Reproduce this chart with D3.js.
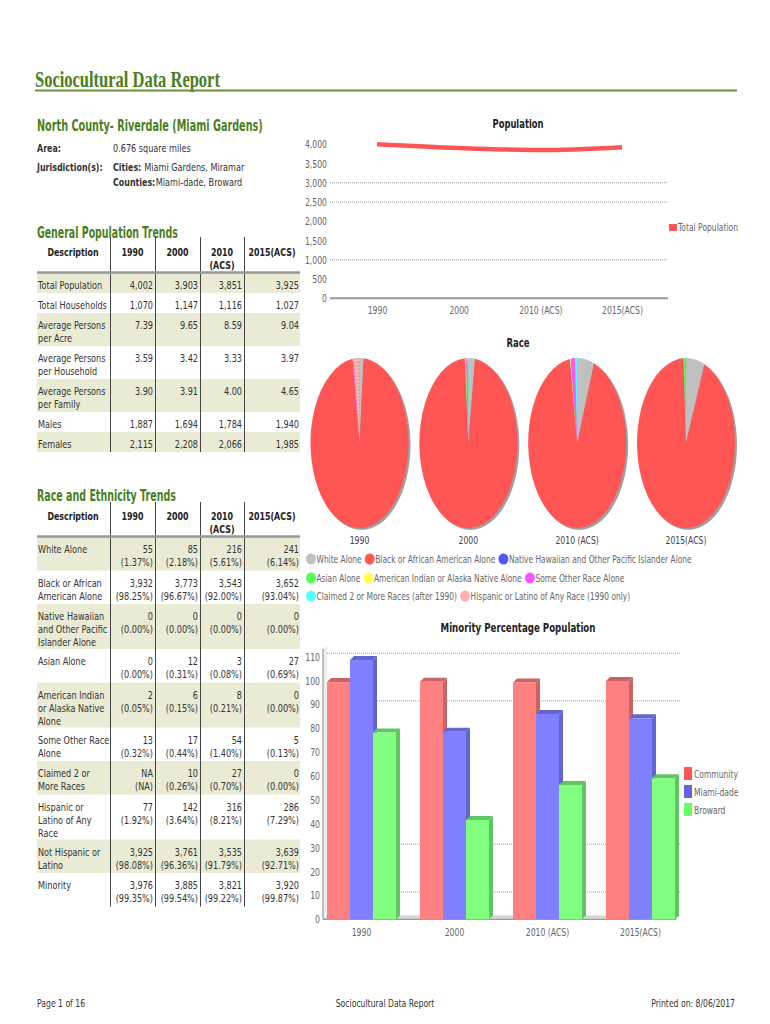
<!DOCTYPE html>
<html><head><meta charset="utf-8">
<script src="https://cdn.jsdelivr.net/npm/d3@7"></script>
<style>html,body{margin:0;padding:0;background:#fff;} svg{display:block;}</style>
</head><body><svg id="page" width="770" height="1024"></svg>
<script>
// ---------------- DATA ----------------
const years = ["1990", "2000", "2010 (ACS)", "2015(ACS)"];
const tableHeads = ["Description", "1990", "2000", "2010\n(ACS)", "2015(ACS)"];

// General population trends
const genLabels = ["Total Population", "Total Households", "Average Persons\nper Acre",
  "Average Persons\nper Household", "Average Persons\nper Family", "Males", "Females"];
const genFormats = [",", ",", ".2f", ".2f", ".2f", ",", ","];
const gen1990 = [4002, 1070, 7.39, 3.59, 3.90, 1887, 2115];
const gen2000 = [3903, 1147, 9.65, 3.42, 3.91, 1694, 2208];
const gen2010 = [3851, 1116, 8.59, 3.33, 4.00, 1784, 2066];
const gen2015 = [3925, 1027, 9.04, 3.97, 4.65, 1940, 1985];

// Race and ethnicity trends
const raceLabels = ["White Alone", "Black or African\nAmerican Alone", "Native Hawaiian\nand Other Pacific\nIslander Alone",
  "Asian Alone", "American Indian\nor Alaska Native\nAlone", "Some Other Race\nAlone", "Claimed 2 or\nMore Races",
  "Hispanic or\nLatino of Any\nRace", "Not Hispanic or\nLatino", "Minority"];
const race1990Count = [55, 3932, 0, 0, 2, 13, null, 77, 3925, 3976];
const race1990Pct = [1.37, 98.25, 0.00, 0.00, 0.05, 0.32, null, 1.92, 98.08, 99.35];
const race2000Count = [85, 3773, 0, 12, 6, 17, 10, 142, 3761, 3885];
const race2000Pct = [2.18, 96.67, 0.00, 0.31, 0.15, 0.44, 0.26, 3.64, 96.36, 99.54];
const race2010Count = [216, 3543, 0, 3, 8, 54, 27, 316, 3535, 3821];
const race2010Pct = [5.61, 92.00, 0.00, 0.08, 0.21, 1.40, 0.70, 8.21, 91.79, 99.22];
const race2015Count = [241, 3652, 0, 27, 0, 5, 0, 286, 3639, 3920];
const race2015Pct = [6.14, 93.04, 0.00, 0.69, 0.00, 0.13, 0.00, 7.29, 92.71, 99.87];

// Population line chart
const totalPopulation = [4002, 3903, 3851, 3925];
const popTicks = [0, 500, 1000, 1500, 2000, 2500, 3000, 3500, 4000];
const popGrid = [1000, 2500, 3000];

// Race pies
const pieCategories = ["White Alone", "Black or African American Alone", "Native Hawaiian and Other Pacific Islander Alone",
  "Asian Alone", "American Indian or Alaska Native Alone", "Some Other Race Alone",
  "Claimed 2 or More Races (after 1990)", "Hispanic or Latino of Any Race (1990 only)"];
const pieColors = ["#c0c0c0", "#ff5555", "#5555ff", "#55ff55", "#ffff55", "#ff55ff", "#55ffff", "url(#hatch)"];
const pieLegendColors = ["#c0c0c0", "#ff5555", "#5555ff", "#55ff55", "#ffff55", "#ff55ff", "#55ffff", "#ffb0b0"];
const pie1990 = [55, 3932, 0, 0, 2, 13, 0, 77];
const pie2000 = [85, 3773, 0, 12, 6, 17, 10, 0];
const pie2010 = [216, 3543, 0, 3, 8, 54, 27, 0];
const pie2015 = [241, 3652, 0, 27, 0, 5, 0, 0];
const pieLegendRows = [[0, 1, 2], [3, 4, 5], [6, 7]];

// Minority bar chart
const barSeries = ["Community", "Miami-dade", "Broward"];
const barFace = ["#ff8080", "#8080ff", "#80ff80"];
const barDark = ["#c86464", "#6464d0", "#60c460"];
const barLegend = ["#ff5555", "#6464e0", "#66ff66"];
const minorityCommunity = [99.35, 99.54, 99.22, 99.87];
const minorityMiamiDade = [108.6, 78.6, 86.0, 84.2];
const minorityBroward = [78.2, 41.6, 56.3, 59.1];
const barTicks = [0, 10, 20, 30, 40, 50, 60, 70, 80, 90, 100, 110];
const barGrid = [10, 30, 90, 110];

// ---------------- HELPERS ----------------
const svg = d3.select("#page");
svg.append("rect").attr("width", 770).attr("height", 1024).attr("fill", "#fff");
const F = "DejaVu Sans";
const GREEN = "#4b7d20";
const SHADE = "#e9ebd4";

const defs = svg.append("defs");
const pat = defs.append("pattern").attr("id", "hatch").attr("width", 2).attr("height", 2)
  .attr("patternUnits", "userSpaceOnUse");
pat.append("rect").attr("width", 2).attr("height", 2).attr("fill", "#f2a0a0");
pat.append("rect").attr("width", 1).attr("height", 1).attr("fill", "#ffd6d6");

// horizontally condense texts with a transform so bounding boxes stay true
function squeeze(sel, k) {
  sel.each(function () {
    const el = d3.select(this);
    const x = +(el.attr("x") || 0), y = +(el.attr("y") || 0);
    el.attr("x", null).attr("y", null)
      .attr("transform", `translate(${x},${y}) scale(${k},1)`);
  });
}
function T(g, x, y, s, o = {}) {
  const t = g.append("text")
    .attr("font-family", o.family || F).attr("font-size", o.size || 11)
    .attr("font-weight", o.weight || "normal").attr("fill", o.fill || "#333")
    .attr("text-anchor", o.anchor || "start").text(s);
  const nat = t.node().getComputedTextLength();
  const k = o.w ? o.w / nat : (o.sx ?? 0.74);
  t.attr("transform", `translate(${x},${y}) scale(${k},1)`);
  t.property("__end", x + nat * k);
  return t;
}
function endX(t) { return t.property("__end"); }

// ---------------- HEADER ----------------
T(svg, 35, 87, "Sociocultural Data Report", { family: "Liberation Serif", size: 23, weight: "bold", fill: GREEN, w: 185 });
svg.append("line").attr("x1", 35).attr("x2", 737).attr("y1", 90.5).attr("y2", 90.5)
  .attr("stroke", "#6b913d").attr("stroke-width", 2);
T(svg, 37, 131, "North County- Riverdale (Miami Gardens)", { size: 15, weight: "bold", fill: GREEN, w: 226 });
T(svg, 37, 152, "Area:", { weight: "bold", sx: 0.72 });
T(svg, 113, 152, "0.676 square miles");
T(svg, 37, 171, "Jurisdiction(s):", { weight: "bold", sx: 0.72 });
let c1 = T(svg, 113, 171, "Cities:", { weight: "bold", sx: 0.72 });
T(svg, endX(c1) + 3, 171, "Miami Gardens, Miramar");
let c2 = T(svg, 113, 186, "Counties:", { weight: "bold", sx: 0.72 });
T(svg, endX(c2) + 0.5, 186, "Miami-dade, Broward");

// ---------------- TABLES ----------------
const colLines = [110, 155, 200, 244];
const colRight = [153, 198, 242, 299];
const colCenter = [73, 132.5, 177.5, 222, 272];

function drawTable(o) {
  const g = svg.append("g");
  const shadeG = g.append("g");
  let y = o.headLine;
  o.labels.forEach((lab, i) => {
    const lines = lab.split("\n");
    const cells = [0, 1, 2, 3].map(c => o.cell(i, c));
    const n = Math.max(lines.length, ...cells.map(a => a.length));
    const h = o.rowH[n];
    if (i % 2 === 0) shadeG.append("rect").attr("x", 37).attr("y", y).attr("width", 263).attr("height", h).attr("fill", SHADE);
    lines.forEach((l, k) => T(g, 38, y + o.firstBase + 13 * k, l));
    cells.forEach((arr, c) => arr.forEach((l, k) => T(g, colRight[c], y + o.firstBase + 13 * k, l, { anchor: "end" })));
    y += h;
  });
  colLines.forEach(x => g.append("line").attr("x1", x + 0.5).attr("x2", x + 0.5)
    .attr("y1", o.vTop).attr("y2", y).attr("stroke", "#444").attr("stroke-width", 1));
  g.append("line").attr("x1", 37).attr("x2", 300).attr("y1", o.headLine - 0.5).attr("y2", o.headLine - 0.5)
    .attr("stroke", "#999").attr("stroke-width", 2.5);
  tableHeads.forEach((h, i) => h.split("\n").forEach((l, k) =>
    T(g, colCenter[i], o.headBase + 13 * k, l, { anchor: "middle", weight: "bold", sx: 0.72, fill: "#222" })));
}

T(svg, 37, 238, "General Population Trends", { size: 15, weight: "bold", fill: GREEN, w: 141 });
const genCols = [gen1990, gen2000, gen2010, gen2015];
drawTable({
  vTop: 237, headBase: 256, headLine: 273, firstBase: 15.5, rowH: { 1: 20, 2: 33 },
  labels: genLabels,
  cell: (i, c) => [d3.format(genFormats[i])(genCols[c][i])]
});

T(svg, 37, 501, "Race and Ethnicity Trends", { size: 15, weight: "bold", fill: GREEN, w: 139 });
const raceCounts = [race1990Count, race2000Count, race2010Count, race2015Count];
const racePcts = [race1990Pct, race2000Pct, race2010Pct, race2015Pct];
drawTable({
  vTop: 502, headBase: 520, headLine: 537, firstBase: 16, rowH: { 2: 33.5, 3: 45 },
  labels: raceLabels,
  cell: (i, c) => {
    const v = raceCounts[c][i], p = racePcts[c][i];
    return [v == null ? "NA" : d3.format(",")(v), p == null ? "(NA)" : "(" + d3.format(".2f")(p) + "%)"];
  }
});

// ---------------- POPULATION LINE CHART ----------------
const CH = "#666";
T(svg, 518, 128, "Population", { weight: "bold", size: 12, fill: "#222", anchor: "middle", w: 51 });
const yP = d3.scaleLinear().domain([0, 4000]).range([298.3, 144.3]);
const xP = d3.scalePoint().domain(years).range([377, 622]);
const gP = svg.append("g");
popGrid.forEach(v => gP.append("line").attr("x1", 330).attr("x2", 668).attr("y1", yP(v)).attr("y2", yP(v))
  .attr("stroke", "#999").attr("stroke-dasharray", "1,1"));
gP.append("line").attr("x1", 330).attr("x2", 668).attr("y1", yP(0)).attr("y2", yP(0)).attr("stroke", "#999").attr("stroke-width", 2);
const ayP = gP.append("g").attr("transform", "translate(328,0)")
  .call(d3.axisLeft(yP).tickValues(popTicks).tickFormat(d3.format(",")).tickSize(0).tickPadding(1));
ayP.select(".domain").remove();
ayP.selectAll("text").attr("font-family", F).attr("font-size", 11).attr("fill", CH).call(s => squeeze(s, 0.7));
const axP = gP.append("g").attr("transform", "translate(0,300)").call(d3.axisBottom(xP).tickSize(0).tickPadding(6));
axP.select(".domain").remove();
axP.selectAll("text").attr("font-family", F).attr("font-size", 11).attr("fill", CH).call(s => squeeze(s, 0.7));
gP.append("path").datum(totalPopulation)
  .attr("d", d3.line().x((d, i) => xP(years[i])).y(d => yP(d)).curve(d3.curveMonotoneX))
  .attr("fill", "none").attr("stroke", "#ff5555").attr("stroke-width", 4.5);
gP.append("rect").attr("x", 669).attr("y", 224).attr("width", 8).attr("height", 7).attr("fill", "#ff5555");
T(gP, 678, 231, "Total Population", { fill: CH, sx: 0.69 });

// ---------------- RACE PIES ----------------
T(svg, 518, 347, "Race", { weight: "bold", size: 12, fill: "#222", anchor: "middle", w: 23 });
const xPie = d3.scalePoint().domain(years).range([359.5, 686]);
const pieData = [pie1990, pie2000, pie2010, pie2015];
const RX = 49, RY = 85, CY = 443;
const pieGen = d3.pie().sort(null).value(d => d);
const arcGen = d3.arc().innerRadius(0).outerRadius(RX);
years.forEach((yr, j) => {
  const cx = xPie(yr);
  const g = svg.append("g").attr("transform", `translate(${cx},${CY})`);
  g.append("ellipse").attr("cx", 2).attr("cy", 2).attr("rx", RX).attr("ry", RY).attr("fill", "#a0a0a0");
  const gs = g.append("g").attr("transform", `scale(1,${RY / RX})`);
  gs.selectAll("path").data(pieGen(pieData[j])).join("path")
    .attr("d", arcGen).attr("fill", (d, i) => pieColors[i]);
  T(svg, cx, 544, yr, { anchor: "middle", fill: "#444", sx: 0.7 });
});
const legY = [563, 582, 600];
pieLegendRows.forEach((row, r) => {
  let x = 306;
  row.forEach(i => {
    svg.append("ellipse").attr("cx", x + 5).attr("cy", legY[r] - 4).attr("rx", 5).attr("ry", 5.5).attr("fill", pieLegendColors[i]);
    const t = T(svg, x + 10.5, legY[r], pieCategories[i], { fill: CH, sx: 0.68 });
    x = endX(t) + 3;
  });
});

// ---------------- MINORITY BAR CHART ----------------
T(svg, 518, 632, "Minority Percentage Population", { weight: "bold", size: 12, fill: "#222", anchor: "middle", w: 155 });
const yB = d3.scaleLinear().domain([0, 110]).range([919.3, 656.7]);
const xB = d3.scaleBand().domain(years).range([327, 675]).paddingInner(0.258).paddingOuter(0);
const xS = d3.scaleBand().domain(barSeries).range([0, xB.bandwidth()]);
const DX = 4, DY = -4;
const gB = svg.append("g");
const y0 = yB(0);
// walls and floor
gB.append("polygon").attr("points", `323,${y0} ${323 + DX},${y0 + DY} ${323 + DX},645 323,649`).attr("fill", "#eeeeee");
gB.append("polygon").attr("points", `323,${y0} ${323 + DX},${y0 + DY} 680,${y0 + DY} ${680 - DX},${y0}`).attr("fill", "#d8d8d8");
barGrid.forEach(v => gB.append("line").attr("x1", 327).attr("x2", 680).attr("y1", yB(v) - 3.5).attr("y2", yB(v) - 3.5)
  .attr("stroke", "#999").attr("stroke-dasharray", "1,1"));
gB.append("line").attr("x1", 323).attr("x2", 323).attr("y1", 649).attr("y2", y0).attr("stroke", "#888");
gB.append("line").attr("x1", 323).attr("x2", 676).attr("y1", y0).attr("y2", y0).attr("stroke", "#888");
const ayB = gB.append("g").attr("transform", "translate(322,0)")
  .call(d3.axisLeft(yB).tickValues(barTicks).tickSize(0).tickPadding(2));
ayB.select(".domain").remove();
ayB.selectAll("text").attr("font-family", F).attr("font-size", 11).attr("fill", CH).call(s => squeeze(s, 0.7));
const axB = gB.append("g").attr("transform", "translate(0,922)").call(d3.axisBottom(xB).tickSize(0).tickPadding(6));
axB.select(".domain").remove();
axB.selectAll("text").attr("font-family", F).attr("font-size", 11).attr("fill", CH).call(s => squeeze(s, 0.7));
const barVals = [minorityCommunity, minorityMiamiDade, minorityBroward];
years.forEach((yr, j) => {
  barSeries.forEach((s, i) => {
    const v = barVals[i][j];
    const x0 = xB(yr) + xS(s), w = xS.bandwidth(), yt = yB(v);
    gB.append("polygon").attr("points",
      `${x0 + w},${yt} ${x0 + w + DX},${yt + DY} ${x0 + w + DX},${y0 + DY} ${x0 + w},${y0}`).attr("fill", barDark[i]);
    gB.append("polygon").attr("points",
      `${x0},${yt} ${x0 + DX},${yt + DY} ${x0 + w + DX},${yt + DY} ${x0 + w},${yt}`).attr("fill", barDark[i]);
    gB.append("rect").attr("x", x0).attr("y", yt).attr("width", w).attr("height", y0 - yt).attr("fill", barFace[i]);
  });
});
const legBY = [767, 785, 803];
barSeries.forEach((s, i) => {
  gB.append("rect").attr("x", 684).attr("y", legBY[i]).attr("width", 8).attr("height", 13).attr("fill", barLegend[i]);
  T(gB, 694, legBY[i] + 11, s, { fill: CH, sx: 0.69 });
});

// ---------------- FOOTER ----------------
T(svg, 37, 1007, "Page 1 of 16", { sx: 0.7 });
T(svg, 385, 1007, "Sociocultural Data Report", { anchor: "middle", sx: 0.7 });
T(svg, 735, 1007, "Printed on: 8/06/2017", { anchor: "end", sx: 0.7 });
</script>
</body></html>
